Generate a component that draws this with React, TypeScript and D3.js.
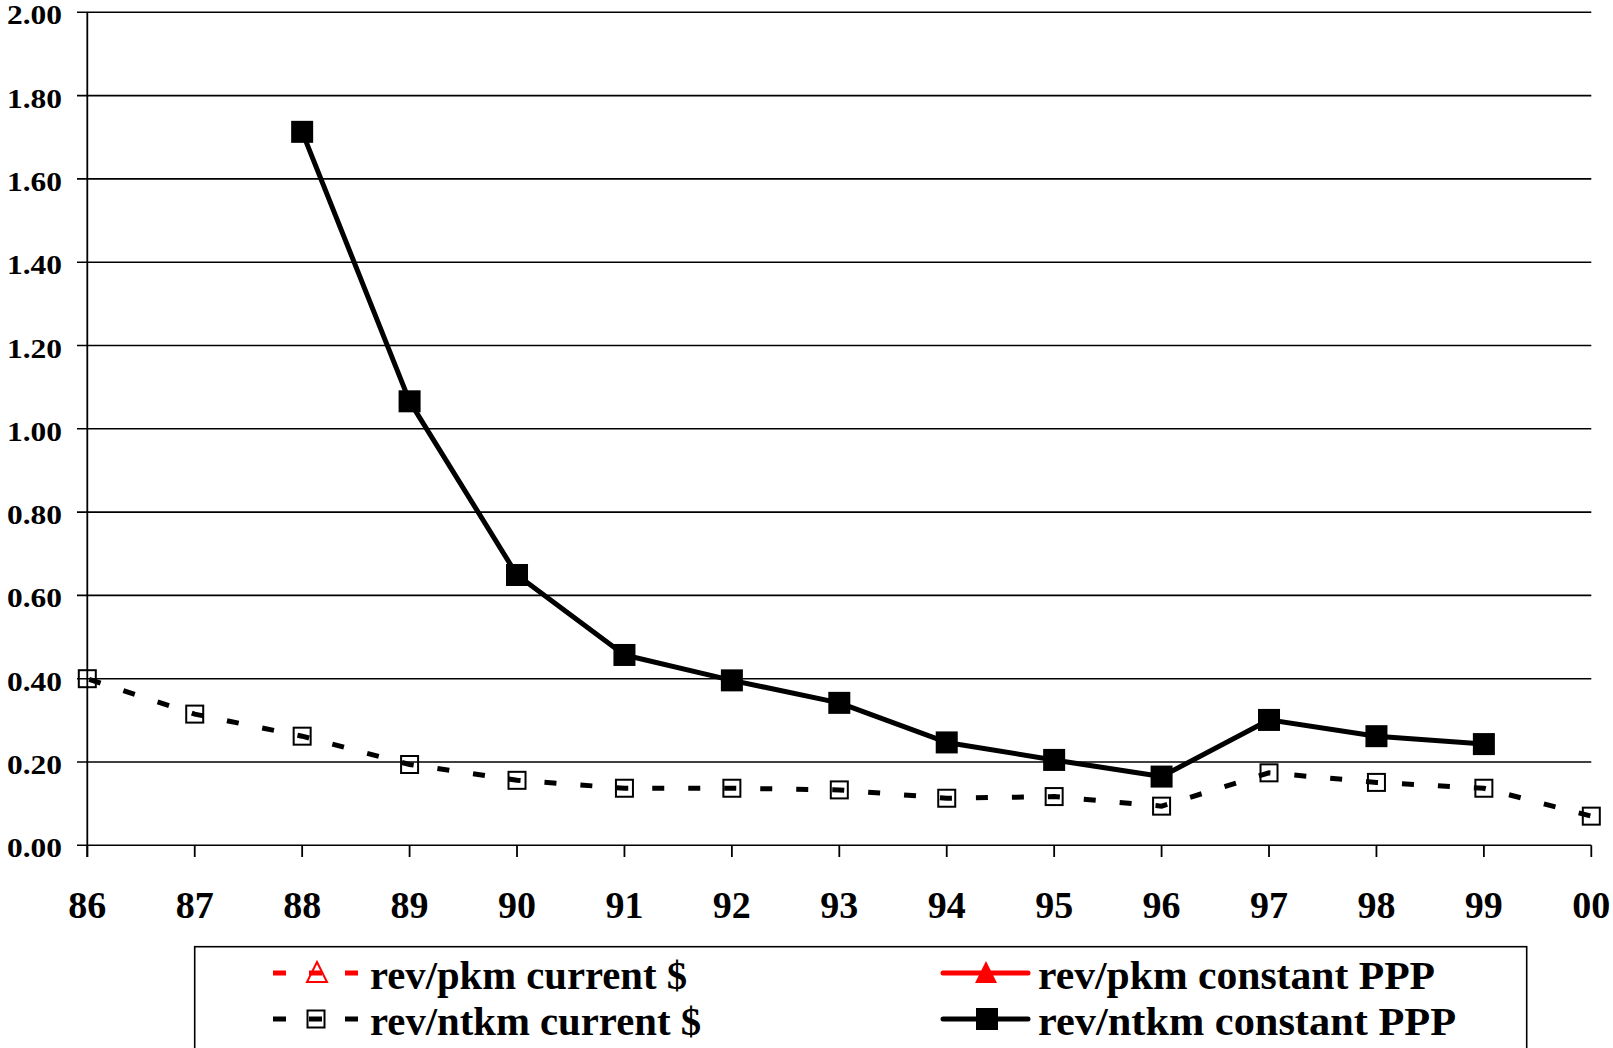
import React from 'react';
import * as d3 from 'd3';

const years = ['86', '87', '88', '89', '90', '91', '92', '93', '94', '95', '96', '97', '98', '99', '00'];
const revNtkmCurrent: (number | null)[] = [0.40, 0.315, 0.262, 0.194, 0.156, 0.137, 0.137, 0.133, 0.113, 0.117, 0.094, 0.174, 0.151, 0.137, 0.070];
const revNtkmConstant: (number | null)[] = [null, null, 1.713, 1.066, 0.649, 0.457, 0.396, 0.342, 0.247, 0.205, 0.165, 0.301, 0.262, 0.243, null];
const revPkmCurrent: (number | null)[] = [null, null, null, null, null, null, null, null, null, null, null, null, null, null, null];
const revPkmConstant: (number | null)[] = [null, null, null, null, null, null, null, null, null, null, null, null, null, null, null];
const yTicks = [0, 0.2, 0.4, 0.6, 0.8, 1.0, 1.2, 1.4, 1.6, 1.8, 2.0];
const legendLabels = ['rev/pkm current $', 'rev/ntkm current $', 'rev/pkm constant PPP', 'rev/ntkm constant PPP'];

const FONT = '"Liberation Serif", "Times New Roman", serif';

export default function App() {
  const x = d3.scaleLinear().domain([0, years.length - 1]).range([87.3, 1591.3]);
  const y = d3.scaleLinear().domain([0, 2]).range([845.3, 12.3]);

  const mkLine = d3
    .line<number | null>()
    .defined((d) => d !== null)
    .x((_, i) => x(i))
    .y((d) => y(d as number));

  const triPath = (cx: number, cy: number, s: number) =>
    `M${cx},${cy - s * 0.55} L${cx + s * 0.5},${cy + s * 0.45} L${cx - s * 0.5},${cy + s * 0.45} Z`;

  const row1 = 973;
  const row2 = 1019;

  return (
    <svg
      width={1613}
      height={1048}
      style={{ position: 'absolute', left: 0, top: 0, background: '#fff' }}
      fontFamily={FONT}
    >
      <rect x={0} y={0} width={1613} height={1048} fill="#fff" />
      {/* gridlines */}
      {yTicks.map((t) => (
        <line key={'g' + t} x1={77} x2={1591.3} y1={y(t)} y2={y(t)} stroke="#000" strokeWidth={1.6} />
      ))}
      {/* y axis */}
      <line x1={87.3} x2={87.3} y1={y(2)} y2={857} stroke="#000" strokeWidth={1.8} />
      {/* x ticks */}
      {years.map((yr, i) => (
        <line key={'t' + yr} x1={x(i)} x2={x(i)} y1={y(0)} y2={857} stroke="#000" strokeWidth={1.8} />
      ))}
      {/* y labels */}
      {yTicks.map((t) => (
        <text
          key={'yl' + t}
          x={62}
          y={y(t) + 12}
          textAnchor="end"
          fontSize={27}
          fontWeight="bold"
          textLength={55}
          lengthAdjust="spacingAndGlyphs"
        >
          {t.toFixed(2)}
        </text>
      ))}
      {/* x labels */}
      {years.map((yr, i) => (
        <text key={'xl' + yr} x={x(i)} y={918} textAnchor="middle" fontSize={38} fontWeight="bold">
          {yr}
        </text>
      ))}

      {/* rev/ntkm current $ dashed line */}
      <path
        d={mkLine(revNtkmCurrent) || ''}
        fill="none"
        stroke="#000"
        strokeWidth={5}
        strokeDasharray="12 24"
        strokeDashoffset={-2}
      />
      {revNtkmCurrent.map((v, i) =>
        v === null ? null : (
          <rect key={'oc' + i} x={x(i) - 8.5} y={y(v) - 8.5} width={17} height={17} fill="none" stroke="#000" strokeWidth={2} />
        )
      )}

      {/* rev/ntkm constant PPP solid line */}
      <path d={mkLine(revNtkmConstant) || ''} fill="none" stroke="#000" strokeWidth={5} strokeLinejoin="round" />
      {revNtkmConstant.map((v, i) =>
        v === null ? null : <rect key={'fc' + i} x={x(i) - 11} y={y(v) - 11} width={22} height={22} fill="#000" />
      )}

      {/* rev/pkm series (no data points) */}
      <path d={mkLine(revPkmCurrent) || ''} fill="none" stroke="#f00" strokeWidth={5} strokeDasharray="12 24" />
      <path d={mkLine(revPkmConstant) || ''} fill="none" stroke="#f00" strokeWidth={5} />

      {/* legend */}
      <rect x={194.7} y={946.7} width={1332} height={140} fill="#fff" stroke="#000" strokeWidth={1.6} />
      {/* row 1 left: rev/pkm current $ */}
      <line x1={273} x2={358} y1={row1} y2={row1} stroke="#f00" strokeWidth={5} strokeDasharray="13 23" />
      <path d={triPath(317, row1, 20)} fill="none" stroke="#f00" strokeWidth={2} />
      <text x={370} y={989} fontSize={41} fontWeight="bold" textLength={317} lengthAdjust="spacingAndGlyphs">{legendLabels[0]}</text>
      {/* row 2 left: rev/ntkm current $ */}
      <line x1={273} x2={358} y1={row2} y2={row2} stroke="#000" strokeWidth={5} strokeDasharray="13 23" />
      <rect x={307.5} y={row2 - 8.5} width={17} height={17} fill="none" stroke="#000" strokeWidth={2} />
      <text x={370} y={1034.5} fontSize={41} fontWeight="bold" textLength={331} lengthAdjust="spacingAndGlyphs">{legendLabels[1]}</text>
      {/* row 1 right: rev/pkm constant PPP */}
      <line x1={943} x2={1028} y1={row1} y2={row1} stroke="#f00" strokeWidth={5} strokeLinecap="round" />
      <path d={triPath(986, row1, 22)} fill="#f00" />
      <text x={1038} y={989} fontSize={41} fontWeight="bold" textLength={397} lengthAdjust="spacingAndGlyphs">{legendLabels[2]}</text>
      {/* row 2 right: rev/ntkm constant PPP */}
      <line x1={943} x2={1028} y1={row2} y2={row2} stroke="#000" strokeWidth={5} strokeLinecap="round" />
      <rect x={976} y={row2 - 11} width={22} height={22} fill="#000" />
      <text x={1038} y={1034.5} fontSize={41} fontWeight="bold" textLength={418} lengthAdjust="spacingAndGlyphs">{legendLabels[3]}</text>
    </svg>
  );
}
